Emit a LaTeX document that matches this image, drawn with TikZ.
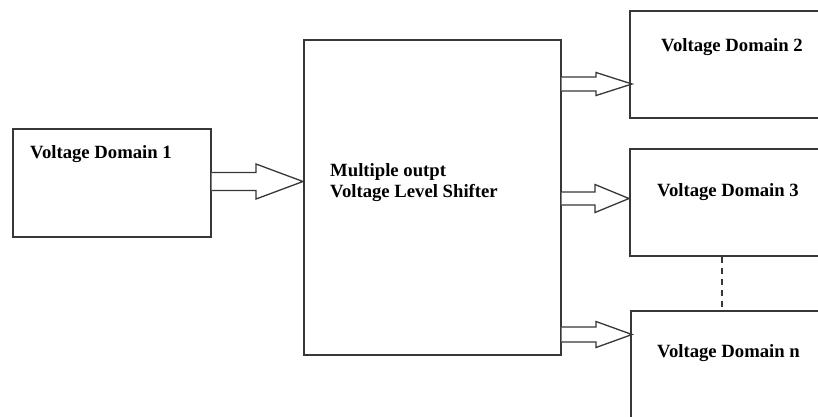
\documentclass[tikz,border=0pt]{standalone}
\usepackage{fontspec}
\setmainfont{Liberation Serif}
\usetikzlibrary{calc}
\definecolor{linegray}{RGB}{55,55,55}
\tikzset{
  boxnode/.style={draw=linegray, line width=1.5pt, rectangle, inner sep=0pt, anchor=north west},
  lbl/.style={anchor=base west, inner sep=0pt, font=\bfseries\fontsize{18.7}{22}\selectfont, text=black},
  fatline/.style={draw=linegray, line width=1.3pt, line join=miter, fill=white},
  dashline/.style={draw=linegray, line width=1.3pt, dash pattern=on 6pt off 5pt}
}
\newcommand\fatarr[5]{%
  \draw[fatline] let \p1=(#1), \p2=(#2) in
    (\x1,{\y1+#3pt}) -- ({\x2-#5pt},{\y1+#3pt}) -- ({\x2-#5pt},{\y1+#4pt}) -- (\x2,\y1)
    -- ({\x2-#5pt},{\y1-#4pt}) -- ({\x2-#5pt},{\y1-#3pt}) -- (\x1,{\y1-#3pt});
}
\begin{document}
\begin{tikzpicture}[x=1pt,y=-1pt]
  \useasboundingbox (0,0) rectangle (818,416);
  \clip (0,0) rectangle (818,416);
  % boxes
  \node[boxnode, minimum width=198pt, minimum height=108pt] (vd1) at (12,128) {};
  \node[boxnode, minimum width=257pt, minimum height=315pt] (main) at (303,39) {};
  \node[boxnode, minimum width=220pt, minimum height=107pt] (vd2) at (629,10) {};
  \node[boxnode, minimum width=220pt, minimum height=107pt] (vd3) at (629,148) {};
  \node[boxnode, minimum width=220pt, minimum height=140pt] (vdn) at (630,310) {};
  % labels
  \node[lbl] (t1) at (30,158) {Voltage Domain 1};
  \node[lbl] (tm1) at (330,176) {Multiple outpt};
  \node[lbl] (tm2) at (330,197) {Voltage Level Shifter};
  \node[lbl] (t2) at (661,51) {Voltage Domain 2};
  \node[lbl] (t3) at (657,196) {Voltage Domain 3};
  \node[lbl] (tn) at (657,357) {Voltage Domain n};
  % arrow anchor points
  \coordinate (a1s) at (vd1.east |- 0,181.5);
  \coordinate (a1e) at (main.west |- 0,181.5);
  \coordinate (a2s) at (main.east |- 0,84);
  \coordinate (a2e) at (632,84);
  \coordinate (a3s) at (main.east |- 0,198.5);
  \coordinate (a3e) at (vd3.west |- 0,198.5);
  \coordinate (a4s) at (main.east |- 0,334.5);
  \coordinate (a4e) at (632,334.5);
  \fatarr{a1s}{a1e}{9}{17.5}{47}
  \fatarr{a2s}{a2e}{7}{11.5}{36}
  \fatarr{a3s}{a3e}{6.5}{14}{34}
  \fatarr{a4s}{a4e}{7.5}{13}{36}
  % dashed link
  \draw[dashline] (vd3.south -| 722,0) -- (vdn.north -| 722,0);
\end{tikzpicture}
\end{document}
